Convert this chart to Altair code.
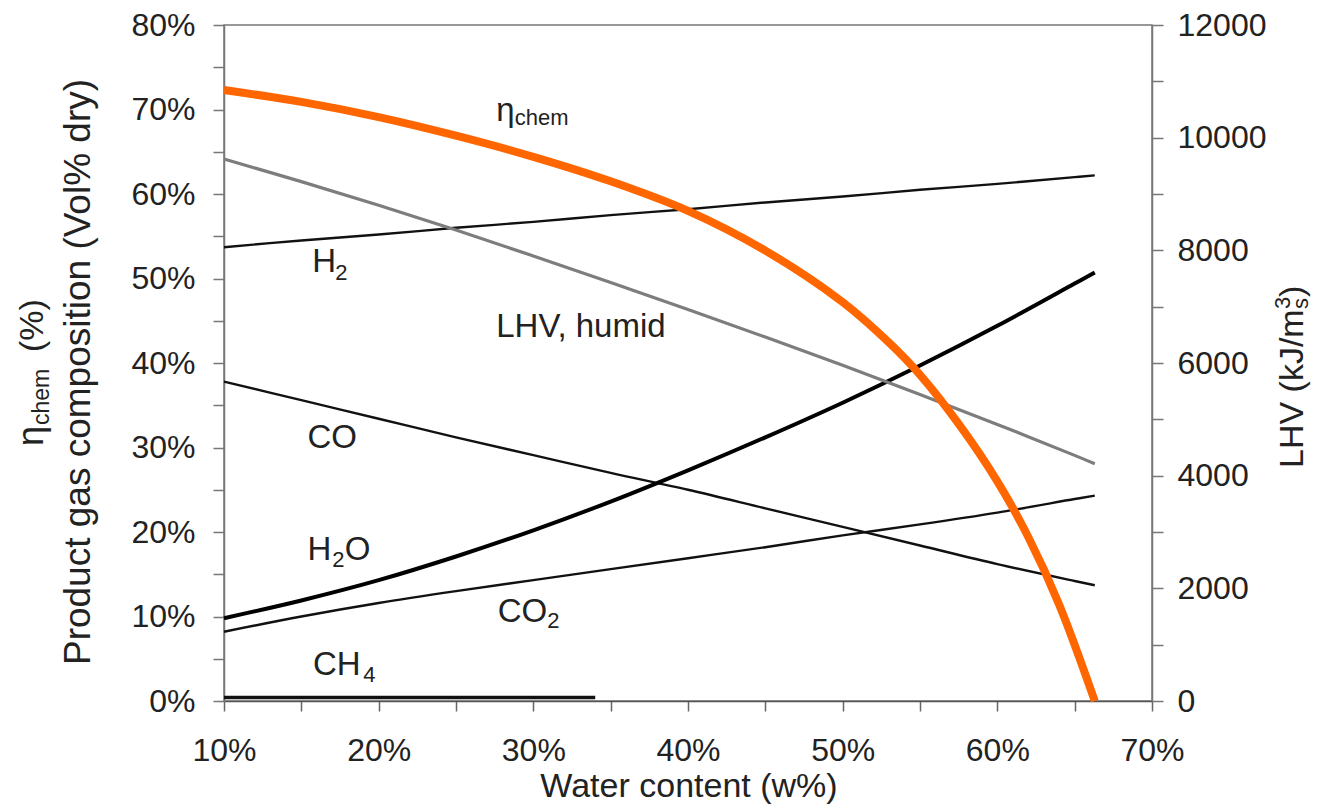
import altair as alt
import pandas as pd

FONT = "Liberation Sans"
TXT = "#222222"

# ---- data ----
water = [10, 15, 20, 25, 30, 35, 40, 45, 50, 55, 60, 65, 66.3]
h2 = [53.7, 54.5, 55.2, 56.0, 56.7, 57.5, 58.2, 59.0, 59.7, 60.5, 61.2, 62.0, 62.2]
co = [37.8, 35.6, 33.4, 31.2, 29.1, 27.0, 25.0, 22.8, 20.6, 18.4, 16.2, 14.2, 13.7]
h2o = [9.8, 11.9, 14.3, 17.1, 20.2, 23.6, 27.3, 31.2, 35.3, 39.7, 44.4, 49.4, 50.7]
co2 = [8.2, 10.0, 11.6, 13.0, 14.3, 15.6, 16.9, 18.2, 19.6, 20.9, 22.3, 23.9, 24.3]
lhv = [9620, 9220, 8800, 8360, 7900, 7430, 6950, 6460, 5960, 5440, 4910, 4360, 4210]

eta_water = [10, 15, 20, 25, 30, 35, 40, 45, 50, 53, 55, 57.5, 60, 62, 64, 66.3]
eta_chem = [72.3, 70.9, 69.1, 66.9, 64.4, 61.5, 58.0, 53.3, 47.2, 42.4, 38.6, 32.8, 26.0, 19.4, 11.4, 0.0]

ch4_water = [10, 34]
ch4 = [0.4, 0.4]

label_text = ["\u03b7", "H", "LHV, humid", "CO", "H", "O", "CO", "CH"]
label_x = [27.6, 15.7, 27.6, 15.4, 15.4, 17.8, 27.7, 15.75]
label_y = [68.6, 50.8, 43.1, 29.9, 16.7, 16.7, 9.35, 3.1]

sub_text = ["chem", "2", "2", "2", "4"]
sub_x = [28.8, 17.2, 17.0, 30.9, 19.0]
sub_y = [68.2, 49.8, 15.9, 8.6, 2.25]

x_ticks = list(range(10, 71, 5))
y_ticks = list(range(0, 81, 5))
lhv_ticks = list(range(0, 12001, 1000))

# ---- tables ----
thin_df = pd.concat([
    pd.DataFrame({"x": water, "y": h2, "s": "H2"}),
    pd.DataFrame({"x": water, "y": co, "s": "CO"}),
    pd.DataFrame({"x": water, "y": co2, "s": "CO2"}),
])
h2o_df = pd.DataFrame({"x": water, "y": h2o})
lhv_df = pd.DataFrame({"x": water, "lhv": lhv})
eta_df = pd.DataFrame({"x": eta_water, "y": eta_chem})
ch4_df = pd.DataFrame({"x": ch4_water, "y": ch4})
lab_df = pd.DataFrame({"text": label_text, "x": label_x, "y": label_y})
sub_df = pd.DataFrame({"text": sub_text, "x": sub_x, "y": sub_y})

x_axis = alt.Axis(
    values=x_ticks, labelExpr="datum.value % 10 === 0 ? datum.value + '%' : ''",
    title=None, grid=False, tickSize=10, tickColor="#666", tickWidth=1.5,
    domainColor="#555", domainWidth=1.5, labelFont=FONT, labelFontSize=32,
    labelColor=TXT, labelPadding=24, labelFlush=False, labelOverlap=False,
)
y_axis = alt.Axis(
    values=y_ticks, labelExpr="datum.value % 10 === 0 ? datum.value + '%' : ''",
    title=None, grid=False, tickSize=11, tickColor="#777", tickWidth=1.5,
    domainColor="#777", domainWidth=1.5, labelFont=FONT, labelFontSize=32,
    labelColor=TXT, labelPadding=18, labelOverlap=False, labelBaseline="middle",
)
r_axis = alt.Axis(
    orient="right", values=lhv_ticks,
    labelExpr="datum.value % 2000 === 0 ? '' + datum.value : ''",
    title=None, grid=False, tickSize=11, tickColor="#777", tickWidth=1.5,
    domainColor="#777", domainWidth=1.5, labelFont=FONT, labelFontSize=32,
    labelColor=TXT, labelPadding=14, labelOverlap=False, labelBaseline="middle",
)

xscale = alt.Scale(domain=[10, 70], nice=False, zero=False)
yscale = alt.Scale(domain=[0, 80], nice=False)
X = alt.X("x:Q", scale=xscale, axis=x_axis)
Y = alt.Y("y:Q", scale=yscale, axis=y_axis)
SMOOTH = "catmull-rom"

thin = alt.Chart(thin_df).mark_line(color="#111", strokeWidth=2.4, interpolate=SMOOTH).encode(
    x=X, y=Y, detail="s:N")
h2o_line = alt.Chart(h2o_df).mark_line(color="#000", strokeWidth=4, interpolate=SMOOTH).encode(x=X, y=Y)
ch4_line = alt.Chart(ch4_df).mark_line(color="#111", strokeWidth=3.5).encode(x=X, y=Y)

labels = alt.Chart(lab_df).mark_text(
    align="left", baseline="alphabetic", fontSize=33, font=FONT, color=TXT).encode(
    x=X, y=Y, text="text:N")
subs = alt.Chart(sub_df).mark_text(
    align="left", baseline="alphabetic", fontSize=22, font=FONT, color=TXT).encode(
    x=X, y=Y, text="text:N")


def free_text(txt, px, py, size, align="left", angle=270):
    return alt.Chart(pd.DataFrame({"t": [txt]})).mark_text(
        align=align, baseline="alphabetic", angle=angle, fontSize=size, font=FONT, color=TXT
    ).encode(x=alt.value(px), y=alt.value(py), text=alt.value(txt))


titles = [
    free_text("Product gas composition (Vol% dry)", -134, 347, 37, align="center"),
    free_text("\u03b7", -181, 421, 36),
    free_text("chem", -175, 400, 23),
    free_text("(%)", -181, 327, 34),
    free_text("LHV (kJ/m", 1079, 443, 34),
    free_text("3", 1066, 284, 22),
    free_text("s", 1084, 284, 22),
    free_text(")", 1079, 272, 34),
    free_text("Water content (w%)", 465, 772, 34, align="center", angle=0),
]

left_group = alt.layer(thin, h2o_line, ch4_line, labels, subs, *titles)

lhv_line = alt.Chart(lhv_df).mark_line(color="#7d7d7d", strokeWidth=3.2, interpolate=SMOOTH).encode(
    x=X, y=alt.Y("lhv:Q", scale=alt.Scale(domain=[0, 12000], nice=False), axis=r_axis))

eta_line = alt.Chart(eta_df).mark_line(color="#FF6600", strokeWidth=8, interpolate=SMOOTH).encode(
    x=X, y=alt.Y("y:Q", scale=alt.Scale(domain=[0, 80], nice=False), axis=None))

chart = alt.layer(left_group, lhv_line, eta_line).resolve_scale(y="independent").properties(
    width=928, height=676,
    autosize=alt.AutoSizeParams(type="none"),
    padding={"left": 216, "top": 17, "right": 160, "bottom": 103},
).configure_view(stroke="#777", strokeWidth=1.5)

chart.save("out.html", embed_options={"renderer": "svg", "actions": False})
